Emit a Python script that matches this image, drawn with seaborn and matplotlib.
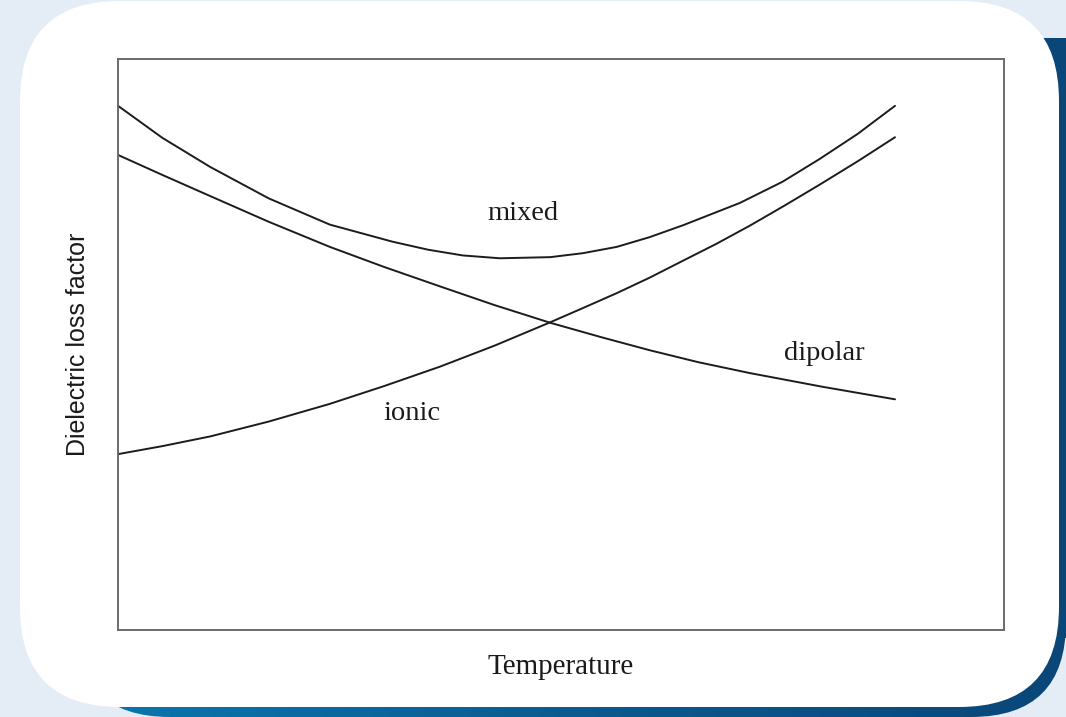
import numpy as np
import pandas as pd
import matplotlib
matplotlib.use("Agg")
import matplotlib.pyplot as plt
import seaborn as sns
from matplotlib.patches import FancyBboxPatch
from matplotlib.colors import LinearSegmentedColormap

# values (x = temperature, y = loss factor, 0-10 scale)
temp_mixed = [0, 0.5, 1.04, 1.7, 2.39, 3.1, 3.5, 3.89, 4.31, 4.88, 5.25, 5.63, 6.0,
              6.38, 7.02, 7.5, 7.92, 8.35, 8.77]
mixed = [9.18, 8.62, 8.11, 7.56, 7.10, 6.80, 6.66, 6.56, 6.51, 6.53, 6.60, 6.71, 6.88,
         7.09, 7.48, 7.85, 8.25, 8.69, 9.18]

temp_dipolar = [0, 0.5, 1.04, 1.7, 2.39, 3.0, 3.63, 4.25, 4.88, 5.45, 6.0, 6.55, 7.13,
                7.95, 8.77]
dipolar = [8.32, 7.97, 7.60, 7.15, 6.71, 6.36, 6.02, 5.69, 5.38, 5.13, 4.90, 4.69, 4.50,
           4.26, 4.04]

temp_ionic = [0, 0.5, 1.04, 1.7, 2.39, 3.0, 3.63, 4.25, 4.88, 5.25, 5.63, 6.0, 6.38,
              6.75, 7.13, 7.52, 7.92, 8.35, 8.77]
ionic = [3.08, 3.22, 3.39, 3.65, 3.96, 4.27, 4.61, 4.98, 5.39, 5.64, 5.90, 6.17, 6.47,
         6.76, 7.08, 7.43, 7.80, 8.21, 8.63]

series_names = ["mixed", "dipolar", "ionic"]

df = pd.concat([
    pd.DataFrame({"temperature": temp_mixed, "loss": mixed, "series": "mixed"}),
    pd.DataFrame({"temperature": temp_dipolar, "loss": dipolar, "series": "dipolar"}),
    pd.DataFrame({"temperature": temp_ionic, "loss": ionic, "series": "ionic"}),
], ignore_index=True)

sns.set_style("white")
plt.rcParams["font.family"] = ["Liberation Serif", "DejaVu Serif"]

W, H = 1066, 717
fig = plt.figure(figsize=(W / 100, H / 100), dpi=100)
fig.patch.set_facecolor("#e4edf5")

# decorative card behind the chart
bg = fig.add_axes([0, 0, 1, 1])
bg.set_xlim(0, W)
bg.set_ylim(H, 0)
bg.axis("off")
bg.set_facecolor("#e4edf5")

# dark blue edge peeking out top right
bg.add_patch(FancyBboxPatch((990, 38), 200, 600, boxstyle="round,pad=0,rounding_size=50",
                            facecolor="#0b4678", edgecolor="none", zorder=1))
shadow = FancyBboxPatch((75, 30), 991, 687, boxstyle="round,pad=0,rounding_size=95",
                        facecolor="none", edgecolor="none")
bg.add_patch(shadow)
blue = LinearSegmentedColormap.from_list("blue", ["#0a78ae", "#0a5a91", "#0b4678"])
grad = bg.imshow(np.linspace(0, 1, 256)[None, :], cmap=blue, aspect="auto",
                 extent=(75, 1066, 717, 30), zorder=1)
grad.set_clip_path(shadow)

card = FancyBboxPatch((20, 1), 1039, 706, boxstyle="round,pad=0,rounding_size=100",
                      facecolor="white", edgecolor="none", zorder=2)
bg.add_patch(card)

# the chart
ax = fig.add_axes([118 / W, (H - 630) / H, 886 / W, 571 / H])
ax.set_facecolor("white")
sns.lineplot(data=df, x="temperature", y="loss", hue="series", hue_order=series_names,
             palette=["#1c1c1c"] * 3, linewidth=1.4, legend=False, ax=ax, sort=True)

ax.set_xlim(0, 10)
ax.set_ylim(0, 10)
ax.set_xticks([])
ax.set_yticks([])
for s in ax.spines.values():
    s.set_visible(True)
    s.set_color("#6a6a6a")
    s.set_linewidth(1.4)

ax.text(4.57, 7.30, "mixed", fontsize=20.5, ha="center", va="center", color="#1a1a1a")
ax.text(7.97, 4.85, "dipolar", fontsize=20.5, ha="center", va="center", color="#1a1a1a")
ax.text(3.32, 3.80, "ionic", fontsize=20.5, ha="center", va="center", color="#1a1a1a")

ax.set_xlabel("Temperature", fontsize=21, color="#1a1a1a", va="center")
ax.xaxis.set_label_coords(0.5, -37 / 571)
ax.set_ylabel("Dielectric loss factor", fontsize=18, color="#1a1a1a", va="center",
              family=["Liberation Sans Narrow", "Liberation Sans", "DejaVu Sans"])
ax.yaxis.set_label_coords(-40 / 886, 0.5)

fig.savefig("out.png", dpi=100, facecolor=fig.get_facecolor())
